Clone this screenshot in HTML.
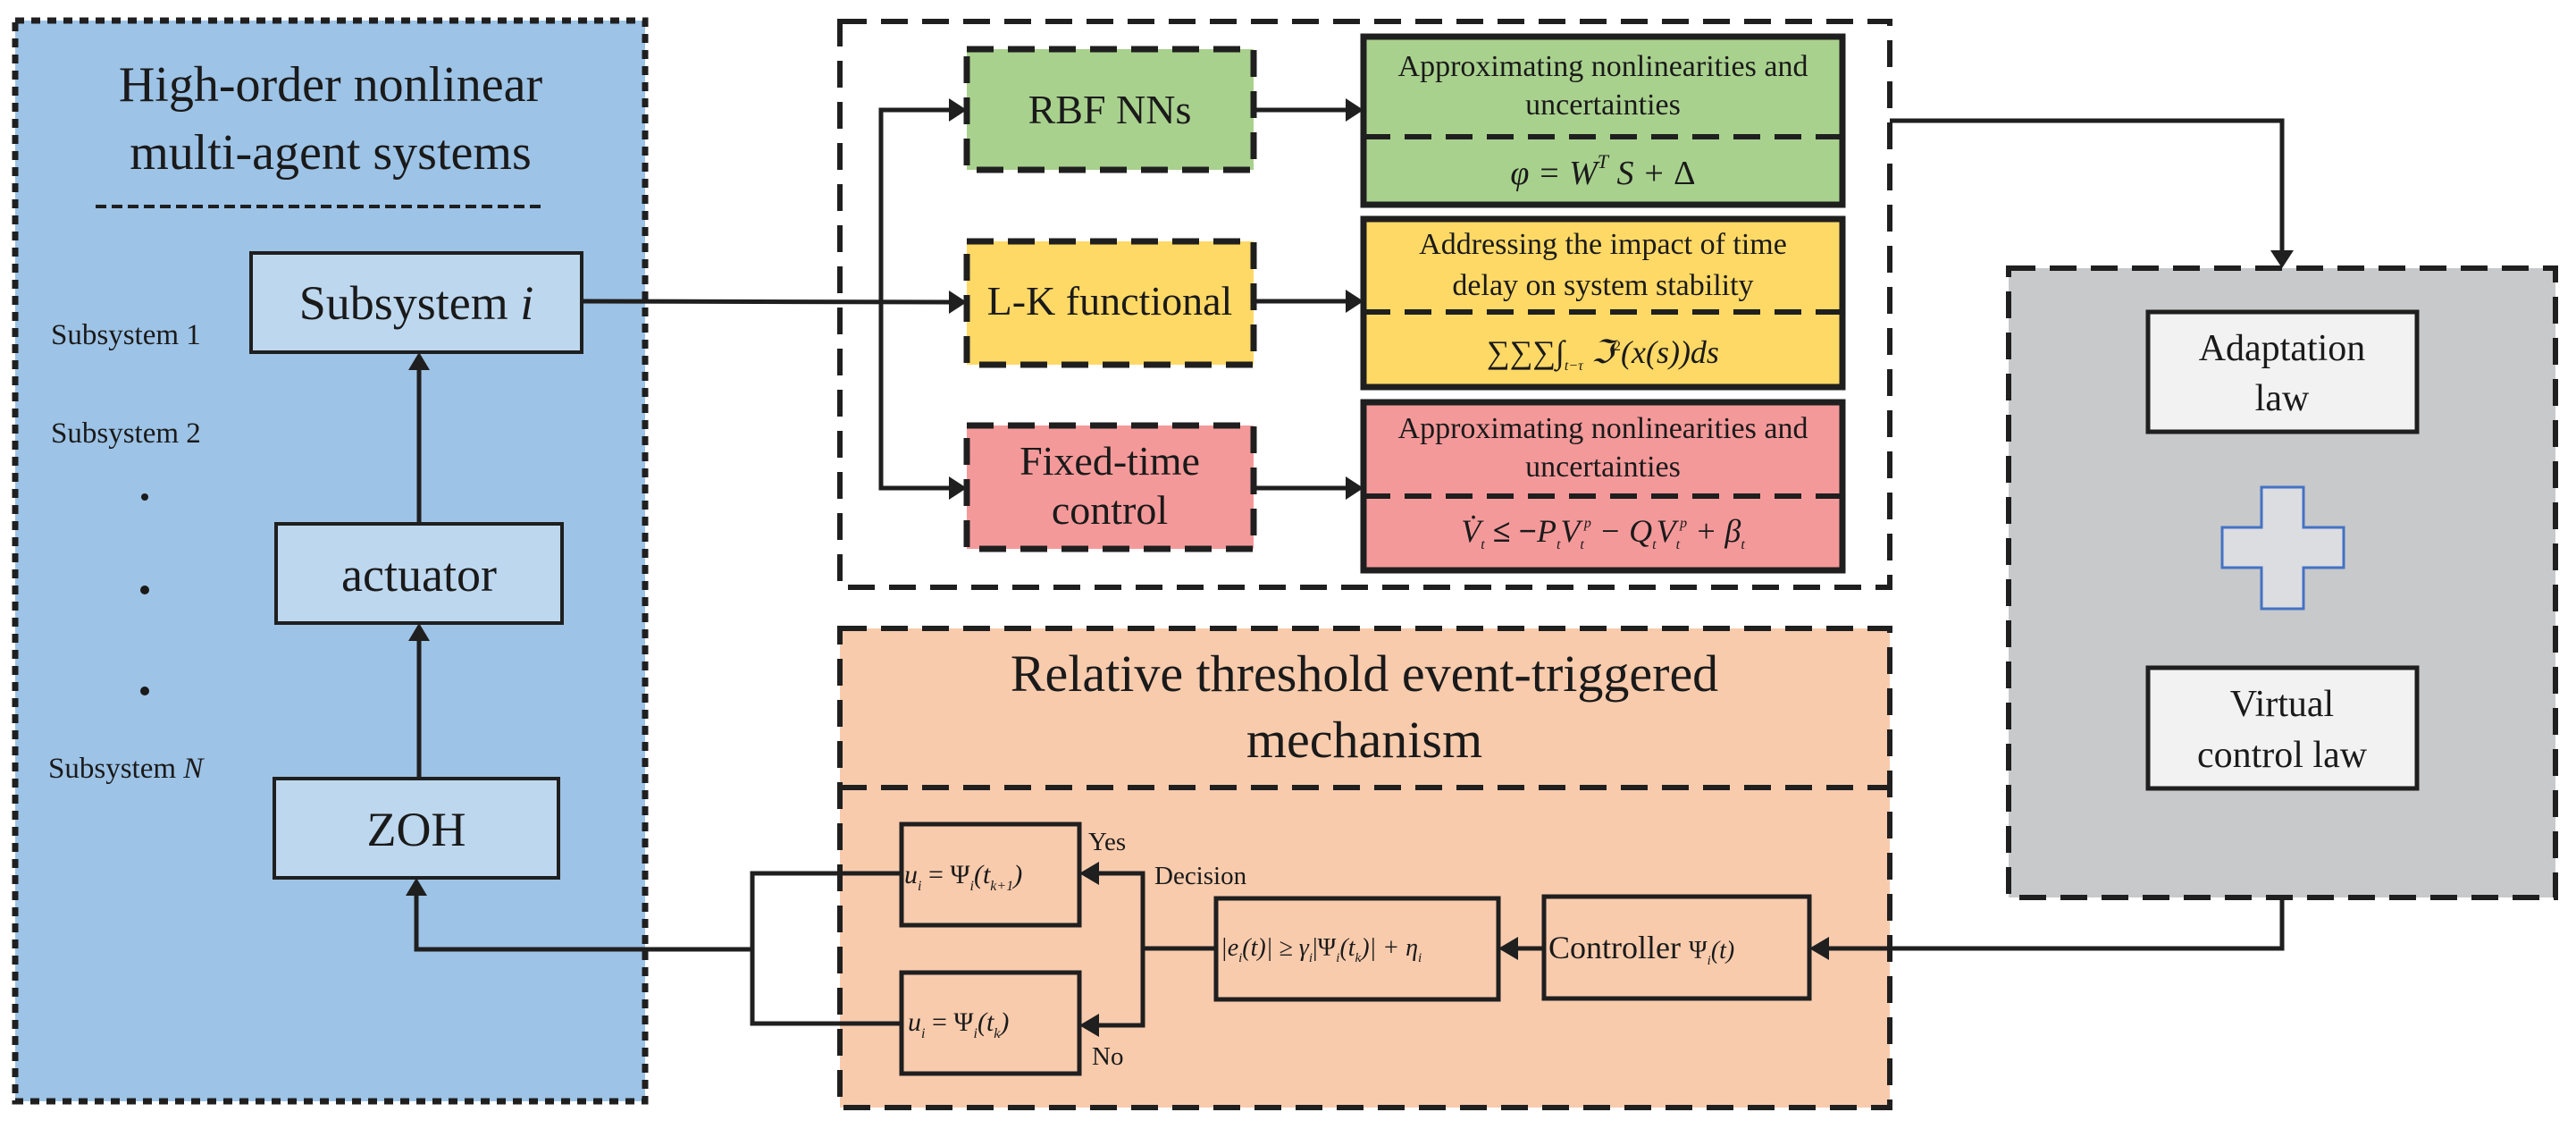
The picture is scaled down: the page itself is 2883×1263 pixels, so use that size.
<!DOCTYPE html>
<html><head><meta charset="utf-8"><style>
html,body{margin:0;padding:0;background:#fff}
svg{display:block}
svg text{font-family:"Liberation Serif","Times New Roman","DejaVu Serif",serif;fill:#1a1a1a}
.it{font-style:italic}
</style></head><body>
<svg width="2883" height="1263" viewBox="0 0 2883 1263" xmlns="http://www.w3.org/2000/svg" font-family="'Liberation Serif', 'Times New Roman', serif">
<g stroke="#1f1f1f" fill="none">
<rect x="17" y="23" width="705" height="1209" fill="#9dc3e6" stroke-width="7" stroke-dasharray="10 8"/>
<line x1="107" y1="231" x2="609" y2="231" stroke-width="4" stroke-dasharray="12 6"/>
<rect x="281" y="283" width="370" height="111" fill="#bdd7ee" stroke-width="4"/>
<rect x="309" y="586" width="320" height="111" fill="#bdd7ee" stroke-width="4"/>
<rect x="307" y="871" width="318" height="111" fill="#bdd7ee" stroke-width="4"/>
<rect x="940" y="24" width="1175" height="633" fill="none" stroke-width="6" stroke-dasharray="30 16"/>
<rect x="1082" y="55" width="321" height="135" fill="#a9d18e" stroke-width="7" stroke-dasharray="30 16"/>
<rect x="1082" y="270" width="321" height="138" fill="#ffd966" stroke-width="7" stroke-dasharray="30 16"/>
<rect x="1082" y="476" width="321" height="138" fill="#f4999a" stroke-width="7" stroke-dasharray="30 16"/>
<rect x="1526" y="41" width="536" height="188" fill="#a9d18e" stroke-width="7"/>
<line x1="1526" y1="153" x2="2062" y2="153" stroke-width="6" stroke-dasharray="30 16"/>
<rect x="1526" y="245" width="536" height="188" fill="#ffd966" stroke-width="7"/>
<line x1="1526" y1="349" x2="2062" y2="349" stroke-width="6" stroke-dasharray="30 16"/>
<rect x="1526" y="450" width="536" height="188" fill="#f4999a" stroke-width="7"/>
<line x1="1526" y1="555" x2="2062" y2="555" stroke-width="6" stroke-dasharray="30 16"/>
<rect x="940" y="703" width="1175" height="536" fill="#f8cbad" stroke-width="6" stroke-dasharray="30 16"/>
<line x1="940" y1="881" x2="2115" y2="881" stroke-width="6" stroke-dasharray="30 16"/>
<rect x="1009" y="922" width="199" height="113" fill="none" stroke-width="5"/>
<rect x="1009" y="1088" width="199" height="113" fill="none" stroke-width="5"/>
<rect x="1361" y="1005" width="316" height="113" fill="none" stroke-width="5"/>
<rect x="1728" y="1003" width="297" height="114" fill="none" stroke-width="5"/>
<rect x="2248" y="300" width="612" height="704" fill="#c8c9cb" stroke-width="6" stroke-dasharray="30 16"/>
<rect x="2404" y="349" width="301" height="134" fill="#f2f2f2" stroke-width="5"/>
<rect x="2404" y="747" width="301" height="135" fill="#f2f2f2" stroke-width="5"/>
<path d="M2531 545 H2578 V590 H2623 V635 H2578 V681 H2531 V635 H2487 V590 H2531 Z" fill="#dcdde0" stroke="#4472c4" stroke-width="3"/>
<g stroke-width="5">
<line x1="469" y1="586" x2="469" y2="410"/>
<line x1="469" y1="871" x2="469" y2="713"/>
<polyline points="842,1062 466,1062 466,998"/>
<polyline points="1009,977 842,977 842,1145 1009,1145"/>
<line x1="651" y1="337" x2="1066" y2="338"/>
<polyline points="1066,123 986,123 986,546 1066,546"/>
<line x1="1403" y1="123" x2="1510" y2="123"/>
<line x1="1403" y1="337" x2="1510" y2="337"/>
<line x1="1403" y1="546" x2="1510" y2="546"/>
<polyline points="2115,135 2554,135 2554,282"/>
<polyline points="2554,1004 2554,1061 2043,1061"/>
<line x1="1728" y1="1061" x2="1695" y2="1061"/>
<line x1="1361" y1="1061" x2="1279" y2="1061"/>
<polyline points="1226,977 1279,977 1279,1147 1226,1147"/>
</g>
</g>
<g fill="#1f1f1f">
<polygon points="469,394 457,414 481,414"/>
<polygon points="469,697 457,717 481,717"/>
<polygon points="466,982 454,1002 478,1002"/>
<polygon points="1082,123 1062,110 1062,136"/>
<polygon points="1082,338 1062,325 1062,351"/>
<polygon points="1082,546 1062,533 1062,559"/>
<polygon points="1526,123 1506,110 1506,136"/>
<polygon points="1526,337 1506,324 1506,350"/>
<polygon points="1526,546 1506,533 1506,559"/>
<polygon points="2554,300 2541,280 2567,280"/>
<polygon points="2025,1061 2047,1048 2047,1074"/>
<polygon points="1677,1061 1699,1048 1699,1074"/>
<polygon points="1208,977 1230,964 1230,990"/>
<polygon points="1208,1147 1230,1134 1230,1160"/>
</g>
<g text-anchor="middle">
<text x="370" y="113" font-size="56">High-order nonlinear</text>
<text x="370" y="189" font-size="56">multi-agent systems</text>
<text x="466" y="357" font-size="54">Subsystem <tspan class="it">i</tspan></text>
<text x="469" y="661" font-size="54">actuator</text>
<text x="466" y="946" font-size="54">ZOH</text>
<text x="1242" y="138" font-size="46">RBF NNs</text>
<text x="1242" y="352" font-size="46">L-K functional</text>
<text x="1242" y="531" font-size="46">Fixed-time</text>
<text x="1242" y="586" font-size="46">control</text>
<text x="1794" y="85" font-size="34">Approximating nonlinearities and</text>
<text x="1794" y="128" font-size="34">uncertainties</text>
<text x="1794" y="206" font-size="38" class="it">φ = W<tspan font-size="22" dy="-18">T</tspan><tspan dy="18"> S + </tspan><tspan font-style="normal">Δ</tspan></text>
<text x="1794" y="284" font-size="34">Addressing the impact of time</text>
<text x="1794" y="330" font-size="34">delay on system stability</text>
<text x="1794" y="406" font-size="36">∑∑∑∫<tspan font-size="16" class="it" dy="8">t−τ</tspan><tspan dy="-8" font-size="36"> </tspan><tspan class="it">ℑ</tspan><tspan font-size="16" dy="-14">2</tspan><tspan dy="14" class="it">(x(s))ds</tspan></text>
<text x="1794" y="490" font-size="34">Approximating nonlinearities and</text>
<text x="1794" y="533" font-size="34">uncertainties</text>
<text x="1794" y="606" font-size="36" class="it">V̇<tspan font-size="16" dy="8">t</tspan><tspan dy="-8" font-style="normal" font-weight="bold"> ≤ −</tspan>P<tspan font-size="16" dy="8">t</tspan><tspan dy="-8">V</tspan><tspan font-size="16" dy="8">t</tspan><tspan font-size="16" dy="-24">p</tspan><tspan dy="16"> − Q</tspan><tspan font-size="16" dy="8">t</tspan><tspan dy="-8">V</tspan><tspan font-size="16" dy="8">t</tspan><tspan font-size="16" dy="-24">p</tspan><tspan dy="16"> + β</tspan><tspan font-size="16" dy="8">t</tspan></text>
<text x="1527" y="773" font-size="58">Relative threshold event-triggered</text>
<text x="1527" y="847" font-size="58">mechanism</text>
<text x="2554" y="403" font-size="42">Adaptation</text>
<text x="2554" y="459" font-size="42">law</text>
<text x="2554" y="801" font-size="42">Virtual</text>
<text x="2554" y="858" font-size="42">control law</text>
</g>
<text x="57" y="385" font-size="33">Subsystem 1</text>
<text x="57" y="495" font-size="33">Subsystem 2</text>
<text x="54" y="870" font-size="33">Subsystem <tspan class="it">N</tspan></text>
<circle cx="162" cy="556" r="4" fill="#1a1a1a"/>
<circle cx="162" cy="660" r="5" fill="#1a1a1a"/>
<circle cx="162" cy="773" r="5" fill="#1a1a1a"/>
<text x="1012" y="988" font-size="30" class="it">u<tspan font-size="16" dy="8">i</tspan><tspan dy="-8" font-style="normal"> = Ψ</tspan><tspan font-size="16" dy="8">i</tspan><tspan dy="-8">(t</tspan><tspan font-size="16" dy="8">k+1</tspan><tspan dy="-8">)</tspan></text>
<text x="1016" y="1153" font-size="30" class="it">u<tspan font-size="16" dy="8">i</tspan><tspan dy="-8" font-style="normal"> = Ψ</tspan><tspan font-size="16" dy="8">i</tspan><tspan dy="-8">(t</tspan><tspan font-size="16" dy="8">k</tspan><tspan dy="-8">)</tspan></text>
<text x="1366" y="1069" font-size="28" class="it">|e<tspan font-size="15" dy="7">i</tspan><tspan dy="-7">(t)| ≥ γ</tspan><tspan font-size="15" dy="7">i</tspan><tspan dy="-7" font-style="normal">|Ψ</tspan><tspan font-size="15" dy="7">i</tspan><tspan dy="-7">(t</tspan><tspan font-size="15" dy="7">k</tspan><tspan dy="-7">)| + η</tspan><tspan font-size="15" dy="7">i</tspan></text>
<text x="1733" y="1072" font-size="36">Controller <tspan font-size="28">Ψ</tspan><tspan font-size="15" class="it" dy="7">i</tspan><tspan dy="-7" font-size="28" class="it">(t)</tspan></text>
<text x="1218" y="951" font-size="29">Yes</text>
<text x="1292" y="989" font-size="29">Decision</text>
<text x="1222" y="1191" font-size="29">No</text>
</svg>
</body></html>
